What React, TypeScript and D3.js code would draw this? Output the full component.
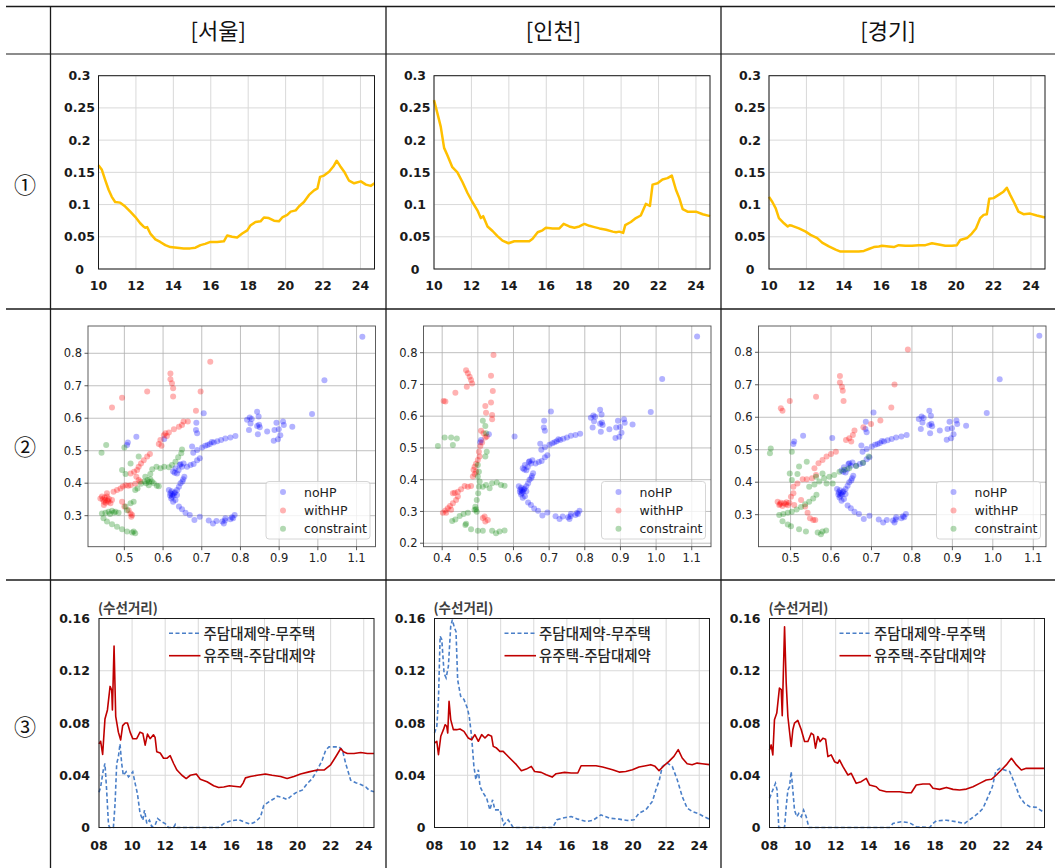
import React from "react";
import * as d3 from "d3";

type P = [number, number];

// ---------- labels ----------
const regions = ["[서울]", "[인천]", "[경기]"];
const rowMarks = ["①", "②", "③"];
const r1YTicks = [0, 0.05, 0.1, 0.15, 0.2, 0.25, 0.3];
const r1YLabels = ["0", "0.05", "0.1", "0.15", "0.2", "0.25", "0.3"];
const r1XTicks = [10, 12, 14, 16, 18, 20, 22, 24];
const r3YTicks = [0, 0.04, 0.08, 0.12, 0.16];
const r3YLabels = ["0", "0.04", "0.08", "0.12", "0.16"];
const r3XTicks = [2008, 2010, 2012, 2014, 2016, 2018, 2020, 2022, 2024];
const r3XLabels = ["08", "10", "12", "14", "16", "18", "20", "22", "24"];
const r3YTitle = "(수선거리)";
const r3SeriesNames = ["주담대제약-무주택", "유주택-주담대제약"];
const scatterNames = ["noHP", "withHP", "constraint"];

// ---------- row 1 : ratio series ----------
const seoulR1: P[] = [[10.0,0.161],[10.18,0.154],[10.36,0.138],[10.54,0.123],[10.71,0.112],[10.89,0.104],[11.16,0.103],[11.43,0.097],[11.7,0.089],[11.96,0.081],[12.23,0.071],[12.4,0.066],[12.5,0.064],[12.6,0.065],[12.77,0.055],[13.04,0.046],[13.3,0.042],[13.57,0.037],[13.84,0.034],[14.2,0.033],[14.55,0.032],[14.9,0.032],[15.18,0.033],[15.45,0.037],[15.7,0.039],[15.98,0.042],[16.34,0.042],[16.7,0.043],[16.88,0.052],[17.14,0.05],[17.41,0.049],[17.68,0.055],[17.95,0.06],[18.13,0.068],[18.39,0.073],[18.66,0.074],[18.84,0.08],[19.1,0.079],[19.38,0.075],[19.64,0.074],[19.82,0.08],[20.09,0.084],[20.27,0.089],[20.54,0.091],[20.71,0.097],[20.98,0.104],[21.25,0.115],[21.52,0.122],[21.7,0.125],[21.84,0.143],[22.05,0.145],[22.32,0.151],[22.55,0.159],[22.73,0.168],[22.91,0.16],[23.13,0.151],[23.39,0.137],[23.66,0.133],[24.02,0.136],[24.29,0.131],[24.55,0.129],[24.75,0.133]];
const incheonR1: P[] = [[10.0,0.262],[10.18,0.242],[10.36,0.221],[10.54,0.188],[10.71,0.177],[10.98,0.158],[11.25,0.15],[11.52,0.135],[11.79,0.118],[12.05,0.104],[12.32,0.091],[12.5,0.079],[12.63,0.082],[12.86,0.066],[13.13,0.059],[13.39,0.051],[13.66,0.044],[13.98,0.04],[14.29,0.043],[14.64,0.043],[15.09,0.043],[15.27,0.047],[15.54,0.057],[15.8,0.06],[15.98,0.064],[16.34,0.063],[16.7,0.063],[16.93,0.07],[17.23,0.066],[17.5,0.064],[17.77,0.066],[18.04,0.07],[18.3,0.067],[18.57,0.065],[18.84,0.063],[19.2,0.061],[19.55,0.058],[19.73,0.057],[19.9,0.058],[20.11,0.056],[20.22,0.068],[20.52,0.073],[20.79,0.079],[21.05,0.083],[21.32,0.101],[21.54,0.098],[21.68,0.131],[21.95,0.133],[22.21,0.139],[22.48,0.141],[22.71,0.145],[22.93,0.123],[23.11,0.11],[23.29,0.093],[23.55,0.089],[24.0,0.089],[24.36,0.085],[24.75,0.082]];
const gyeonggiR1: P[] = [[10.0,0.112],[10.18,0.104],[10.36,0.094],[10.53,0.079],[10.8,0.071],[11.0,0.066],[11.1,0.068],[11.24,0.067],[11.6,0.063],[11.96,0.058],[12.22,0.053],[12.58,0.048],[12.84,0.041],[13.2,0.035],[13.56,0.03],[13.82,0.027],[14.27,0.027],[14.8,0.027],[15.07,0.028],[15.33,0.031],[15.6,0.034],[15.87,0.035],[16.04,0.036],[16.4,0.035],[16.67,0.034],[16.93,0.037],[17.29,0.036],[17.64,0.036],[18.0,0.037],[18.36,0.037],[18.71,0.04],[19.07,0.038],[19.42,0.036],[19.78,0.036],[20.04,0.037],[20.22,0.045],[20.58,0.048],[20.84,0.055],[21.06,0.063],[21.29,0.079],[21.47,0.084],[21.64,0.085],[21.77,0.109],[22.0,0.11],[22.27,0.115],[22.53,0.12],[22.71,0.126],[22.89,0.115],[23.12,0.102],[23.33,0.089],[23.6,0.085],[23.96,0.086],[24.31,0.083],[24.75,0.08]];

// ---------- row 2 : scatter ----------
const noHP: P[] = [[1.115,0.851],[1.017,0.717],[0.985,0.613],[0.817,0.595],[0.824,0.602],[0.826,0.584],[0.822,0.564],[0.843,0.62],[0.847,0.605],[0.843,0.576],[0.85,0.572],[0.845,0.551],[0.869,0.559],[0.886,0.531],[0.888,0.564],[0.893,0.586],[0.899,0.566],[0.91,0.59],[0.903,0.548],[0.897,0.535],[0.934,0.574],[0.912,0.579],[0.829,0.598],[0.848,0.58],[0.678,0.494],[0.688,0.502],[0.701,0.51],[0.709,0.515],[0.721,0.521],[0.731,0.525],[0.74,0.529],[0.75,0.533],[0.761,0.538],[0.774,0.541],[0.787,0.545],[0.715,0.518],[0.726,0.527],[0.626,0.436],[0.632,0.446],[0.636,0.43],[0.643,0.456],[0.649,0.451],[0.653,0.461],[0.662,0.451],[0.671,0.456],[0.679,0.459],[0.688,0.471],[0.695,0.477],[0.64,0.44],[0.63,0.432],[0.645,0.458],[0.615,0.379],[0.619,0.369],[0.623,0.358],[0.629,0.369],[0.636,0.379],[0.626,0.343],[0.621,0.353],[0.632,0.348],[0.641,0.389],[0.645,0.4],[0.652,0.412],[0.655,0.42],[0.636,0.364],[0.622,0.375],[0.627,0.362],[0.65,0.405],[0.624,0.366],[0.631,0.372],[0.618,0.362],[0.641,0.328],[0.649,0.32],[0.658,0.309],[0.669,0.302],[0.681,0.287],[0.695,0.297],[0.718,0.285],[0.729,0.276],[0.738,0.284],[0.753,0.282],[0.757,0.276],[0.761,0.292],[0.774,0.289],[0.781,0.292],[0.785,0.302],[0.76,0.285],[0.778,0.295],[0.507,0.518],[0.509,0.525],[0.531,0.543],[0.705,0.615],[0.686,0.586],[0.685,0.564],[0.688,0.554],[0.675,0.513],[0.603,0.536]];
const seoulWithHP: P[] = [[0.468,0.633],[0.494,0.663],[0.559,0.682],[0.619,0.738],[0.619,0.72],[0.623,0.708],[0.626,0.692],[0.626,0.667],[0.722,0.774],[0.697,0.682],[0.685,0.623],[0.442,0.359],[0.447,0.343],[0.451,0.348],[0.455,0.359],[0.459,0.343],[0.464,0.338],[0.468,0.348],[0.447,0.333],[0.455,0.369],[0.438,0.353],[0.444,0.35],[0.452,0.34],[0.46,0.352],[0.449,0.356],[0.457,0.347],[0.472,0.374],[0.481,0.379],[0.49,0.384],[0.503,0.394],[0.516,0.394],[0.528,0.398],[0.537,0.41],[0.541,0.405],[0.531,0.42],[0.496,0.39],[0.51,0.392],[0.533,0.441],[0.537,0.451],[0.543,0.461],[0.55,0.471],[0.559,0.482],[0.566,0.49],[0.589,0.521],[0.593,0.533],[0.602,0.548],[0.606,0.554],[0.615,0.556],[0.628,0.566],[0.641,0.574],[0.649,0.579],[0.653,0.59],[0.664,0.59],[0.596,0.515],[0.61,0.545],[0.516,0.307],[0.518,0.297],[0.511,0.317],[0.5,0.328],[0.494,0.343],[0.52,0.302],[0.516,0.43],[0.525,0.435]];
const seoulConstraint: P[] = [[0.441,0.494],[0.453,0.518],[0.5,0.51],[0.494,0.441],[0.503,0.428],[0.516,0.461],[0.537,0.482],[0.442,0.307],[0.451,0.309],[0.459,0.312],[0.468,0.315],[0.477,0.312],[0.485,0.309],[0.446,0.292],[0.455,0.282],[0.468,0.274],[0.481,0.266],[0.494,0.258],[0.507,0.251],[0.52,0.248],[0.528,0.246],[0.524,0.251],[0.473,0.31],[0.463,0.305],[0.503,0.328],[0.516,0.338],[0.524,0.343],[0.507,0.317],[0.528,0.379],[0.534,0.384],[0.543,0.398],[0.552,0.405],[0.56,0.41],[0.567,0.412],[0.576,0.4],[0.584,0.392],[0.589,0.391],[0.563,0.394],[0.556,0.4],[0.571,0.405],[0.564,0.404],[0.572,0.443],[0.583,0.451],[0.593,0.446],[0.603,0.451],[0.615,0.449],[0.623,0.456],[0.632,0.466],[0.639,0.48],[0.647,0.492],[0.649,0.504],[0.567,0.428],[0.554,0.42]];
const incheonWithHP: P[] = [[0.404,0.648],[0.409,0.646],[0.437,0.674],[0.469,0.693],[0.467,0.745],[0.472,0.735],[0.477,0.724],[0.481,0.714],[0.484,0.703],[0.544,0.793],[0.537,0.727],[0.542,0.679],[0.537,0.643],[0.521,0.632],[0.523,0.611],[0.54,0.604],[0.54,0.59],[0.509,0.554],[0.516,0.546],[0.521,0.533],[0.525,0.536],[0.512,0.517],[0.507,0.506],[0.503,0.488],[0.505,0.473],[0.5,0.462],[0.495,0.45],[0.491,0.441],[0.488,0.431],[0.491,0.418],[0.486,0.41],[0.495,0.425],[0.481,0.38],[0.472,0.378],[0.463,0.38],[0.453,0.37],[0.444,0.362],[0.435,0.359],[0.43,0.357],[0.444,0.347],[0.439,0.336],[0.43,0.326],[0.422,0.317],[0.416,0.31],[0.409,0.303],[0.402,0.296],[0.411,0.296],[0.425,0.305],[0.519,0.284],[0.528,0.273],[0.521,0.268],[0.514,0.279]];
const incheonConstraint: P[] = [[0.388,0.506],[0.407,0.533],[0.425,0.533],[0.43,0.509],[0.441,0.53],[0.514,0.586],[0.521,0.569],[0.523,0.546],[0.525,0.488],[0.521,0.473],[0.5,0.446],[0.503,0.425],[0.5,0.41],[0.505,0.394],[0.503,0.378],[0.501,0.357],[0.497,0.336],[0.493,0.315],[0.491,0.305],[0.523,0.383],[0.54,0.389],[0.553,0.391],[0.565,0.383],[0.575,0.381],[0.514,0.378],[0.533,0.373],[0.472,0.296],[0.46,0.292],[0.449,0.286],[0.437,0.275],[0.428,0.27],[0.467,0.261],[0.465,0.257],[0.481,0.244],[0.5,0.239],[0.514,0.239],[0.54,0.239],[0.551,0.231],[0.561,0.237],[0.575,0.24],[0.495,0.307],[0.497,0.299]];
const gyeonggiWithHP: P[] = [[0.476,0.628],[0.48,0.62],[0.498,0.65],[0.563,0.663],[0.622,0.727],[0.622,0.707],[0.627,0.694],[0.629,0.682],[0.631,0.65],[0.757,0.701],[0.749,0.63],[0.79,0.809],[0.722,0.59],[0.699,0.579],[0.68,0.569],[0.468,0.34],[0.472,0.33],[0.476,0.337],[0.48,0.327],[0.484,0.335],[0.488,0.332],[0.493,0.329],[0.497,0.337],[0.474,0.333],[0.49,0.338],[0.501,0.355],[0.507,0.366],[0.507,0.386],[0.517,0.396],[0.53,0.409],[0.54,0.409],[0.553,0.412],[0.563,0.422],[0.559,0.443],[0.569,0.458],[0.579,0.468],[0.589,0.479],[0.6,0.487],[0.612,0.494],[0.637,0.53],[0.645,0.535],[0.654,0.545],[0.658,0.559],[0.65,0.525],[0.526,0.345],[0.536,0.325],[0.542,0.306],[0.548,0.289],[0.556,0.284],[0.561,0.284],[0.509,0.33]];
const gyeonggiConstraint: P[] = [[0.451,0.504],[0.449,0.489],[0.503,0.494],[0.498,0.427],[0.521,0.448],[0.54,0.463],[0.503,0.407],[0.517,0.425],[0.472,0.299],[0.482,0.302],[0.493,0.306],[0.503,0.309],[0.515,0.316],[0.526,0.324],[0.536,0.332],[0.546,0.34],[0.556,0.35],[0.564,0.361],[0.48,0.28],[0.493,0.27],[0.501,0.264],[0.521,0.255],[0.538,0.248],[0.567,0.245],[0.579,0.248],[0.588,0.251],[0.575,0.24],[0.546,0.386],[0.559,0.393],[0.571,0.402],[0.583,0.412],[0.596,0.417],[0.608,0.422],[0.621,0.432],[0.633,0.438],[0.645,0.443],[0.662,0.45],[0.679,0.46],[0.693,0.479],[0.589,0.396],[0.604,0.396],[0.579,0.427],[0.563,0.417]];

// scatter axes per panel
const scatterXDomains: P[] = [[0.406, 1.149], [0.3476, 1.154], [0.4207, 1.1315]];
const scatterYDomains: P[] = [[0.2045, 0.884], [0.189, 0.884], [0.2014, 0.881]];
const scatterXTicks = [[0.5, 0.6, 0.7, 0.8, 0.9, 1.0, 1.1], [0.4, 0.5, 0.6, 0.7, 0.8, 0.9, 1.0, 1.1], [0.5, 0.6, 0.7, 0.8, 0.9, 1.0, 1.1]];
const scatterYTicks = [[0.3, 0.4, 0.5, 0.6, 0.7, 0.8], [0.2, 0.3, 0.4, 0.5, 0.6, 0.7, 0.8], [0.3, 0.4, 0.5, 0.6, 0.7, 0.8]];

// ---------- row 3 : convergence distance ----------
const seoulRed: P[] = [[2008.0,0.064],[2008.1,0.066],[2008.22,0.056],[2008.36,0.083],[2008.51,0.09],[2008.67,0.108],[2008.77,0.105],[2008.81,0.09],[2008.91,0.139],[2009.01,0.085],[2009.17,0.073],[2009.31,0.067],[2009.43,0.078],[2009.58,0.08],[2009.72,0.08],[2009.88,0.073],[2010.04,0.068],[2010.28,0.068],[2010.48,0.073],[2010.65,0.072],[2010.79,0.063],[2010.93,0.0715],[2011.09,0.068],[2011.29,0.071],[2011.39,0.069],[2011.49,0.058],[2011.7,0.057],[2011.9,0.053],[2012.1,0.053],[2012.3,0.055],[2012.51,0.049],[2012.71,0.044],[2013.01,0.04],[2013.27,0.0375],[2013.52,0.04],[2013.88,0.041],[2014.12,0.037],[2014.53,0.035],[2014.93,0.032],[2015.23,0.0306],[2015.54,0.031],[2015.88,0.032],[2016.14,0.0316],[2016.55,0.031],[2016.71,0.034],[2016.85,0.038],[2017.15,0.039],[2017.56,0.04],[2018.06,0.041],[2018.46,0.04],[2018.97,0.039],[2019.37,0.0375],[2019.78,0.039],[2020.18,0.041],[2020.69,0.0426],[2021.19,0.044],[2021.6,0.044],[2022.0,0.048],[2022.3,0.054],[2022.61,0.0605],[2022.77,0.058],[2023.01,0.0566],[2023.41,0.0566],[2023.82,0.0574],[2024.22,0.0566],[2024.62,0.0566]];
const seoulBlue: P[] = [[2008.0,0.027],[2008.1,0.031],[2008.26,0.044],[2008.36,0.049],[2008.46,0.029],[2008.57,0.003],[2008.63,0],[2008.87,0],[2008.97,0.018],[2009.07,0.049],[2009.17,0.054],[2009.27,0.064],[2009.37,0.049],[2009.47,0.04],[2009.64,0.0426],[2009.78,0.0388],[2009.88,0.04],[2010.04,0.0426],[2010.18,0.034],[2010.32,0.026],[2010.48,0.011],[2010.65,0.0056],[2010.75,0.0133],[2010.89,0.003],[2011.05,0.0056],[2011.19,0.0005],[2011.39,0.0018],[2011.54,0.0069],[2011.8,0.0043],[2012.0,0.003],[2012.2,0],[2012.51,0],[2012.61,0.0023],[2012.71,0],[2015.23,0],[2015.54,0.003],[2015.94,0.005],[2016.44,0.006],[2016.75,0.0043],[2017.15,0.0026],[2017.45,0.0043],[2017.76,0.008],[2017.96,0.017],[2018.26,0.0196],[2018.57,0.022],[2018.77,0.024],[2019.07,0.023],[2019.37,0.0214],[2019.68,0.0248],[2019.98,0.0273],[2020.28,0.0286],[2020.59,0.0337],[2020.89,0.0375],[2021.19,0.0439],[2021.49,0.0516],[2021.7,0.0592],[2021.9,0.0617],[2022.2,0.0617],[2022.51,0.0617],[2022.71,0.0592],[2022.91,0.049],[2023.21,0.0362],[2023.52,0.0342],[2023.82,0.0329],[2024.12,0.0311],[2024.32,0.0286],[2024.62,0.0273]];
const incheonRed: P[] = [[2008.0,0.0647],[2008.14,0.066],[2008.24,0.0557],[2008.38,0.0698],[2008.54,0.0749],[2008.64,0.0787],[2008.74,0.0775],[2008.8,0.0723],[2008.88,0.0966],[2008.98,0.0826],[2009.14,0.0749],[2009.34,0.0749],[2009.54,0.0754],[2009.78,0.0736],[2010.04,0.0685],[2010.24,0.0672],[2010.44,0.0711],[2010.65,0.066],[2010.85,0.0711],[2011.05,0.0685],[2011.25,0.0711],[2011.45,0.0698],[2011.55,0.0621],[2011.75,0.0608],[2011.95,0.0583],[2012.15,0.0583],[2012.35,0.0557],[2012.65,0.0519],[2012.95,0.0481],[2013.25,0.0435],[2013.55,0.0447],[2013.85,0.0468],[2014.05,0.0429],[2014.45,0.0422],[2014.75,0.0404],[2015.11,0.0386],[2015.35,0.0412],[2015.86,0.0422],[2016.26,0.0417],[2016.66,0.0417],[2016.86,0.0473],[2017.36,0.0473],[2017.76,0.0473],[2018.16,0.0463],[2018.76,0.0442],[2019.16,0.0424],[2019.56,0.0429],[2019.96,0.0442],[2020.36,0.0463],[2020.77,0.0473],[2021.07,0.0481],[2021.33,0.0468],[2021.57,0.0435],[2021.87,0.0473],[2022.17,0.0506],[2022.47,0.0544],[2022.73,0.0596],[2022.97,0.0532],[2023.27,0.0488],[2023.57,0.0481],[2023.87,0.0493],[2024.17,0.0488],[2024.62,0.0481]];
const incheonBlue: P[] = [[2008.0,0.0723],[2008.14,0.0775],[2008.24,0.098],[2008.34,0.1465],[2008.44,0.144],[2008.58,0.118],[2008.7,0.1145],[2008.84,0.1235],[2008.98,0.154],[2009.08,0.159],[2009.2,0.153],[2009.3,0.15],[2009.4,0.113],[2009.58,0.1005],[2009.78,0.098],[2009.98,0.0915],[2010.1,0.085],[2010.24,0.07],[2010.38,0.047],[2010.5,0.0366],[2010.65,0.0442],[2010.75,0.0314],[2010.95,0.0263],[2011.15,0.0225],[2011.35,0.0135],[2011.51,0.0212],[2011.65,0.0135],[2011.95,0.0135],[2012.19,0.002],[2012.45,0.0059],[2012.59,0.0033],[2012.75,0],[2015.15,0],[2015.4,0.0059],[2015.76,0.0072],[2016.26,0.0084],[2016.66,0.0064],[2017.16,0.0046],[2017.56,0.0054],[2018.06,0.0097],[2018.56,0.0072],[2019.16,0.0064],[2019.66,0.0054],[2020.06,0.0059],[2020.36,0.011],[2020.77,0.0135],[2021.17,0.02],[2021.41,0.0302],[2021.57,0.0353],[2021.77,0.0468],[2022.07,0.0493],[2022.37,0.0468],[2022.67,0.0366],[2022.97,0.0238],[2023.27,0.0148],[2023.57,0.0123],[2023.97,0.0105],[2024.27,0.0084],[2024.62,0.0064]];
const gyeonggiRed: P[] = [[2008.0,0.0594],[2008.1,0.0632],[2008.2,0.0556],[2008.3,0.0824],[2008.44,0.0876],[2008.6,0.1068],[2008.71,0.1055],[2008.77,0.0855],[2008.91,0.1536],[2009.01,0.1106],[2009.11,0.085],[2009.31,0.062],[2009.41,0.0748],[2009.51,0.0799],[2009.71,0.082],[2009.92,0.0748],[2010.12,0.0658],[2010.32,0.0658],[2010.52,0.0722],[2010.66,0.0709],[2010.78,0.0607],[2010.92,0.0697],[2011.06,0.0658],[2011.23,0.0684],[2011.39,0.0676],[2011.53,0.0543],[2011.73,0.0556],[2011.93,0.0504],[2012.13,0.0492],[2012.23,0.0517],[2012.44,0.0466],[2012.74,0.0402],[2012.94,0.0415],[2013.24,0.0338],[2013.54,0.0351],[2013.85,0.0376],[2014.05,0.0325],[2014.45,0.0312],[2014.65,0.0287],[2015.06,0.0274],[2015.46,0.0274],[2015.86,0.0274],[2016.27,0.0266],[2016.57,0.0266],[2016.87,0.0325],[2017.27,0.0333],[2017.68,0.0333],[2017.88,0.03],[2018.28,0.0292],[2018.69,0.0307],[2019.09,0.0292],[2019.49,0.0287],[2019.9,0.0294],[2020.3,0.0312],[2020.7,0.0338],[2021.1,0.0364],[2021.41,0.0369],[2021.71,0.0402],[2022.01,0.044],[2022.31,0.0479],[2022.62,0.053],[2022.92,0.0479],[2023.22,0.044],[2023.52,0.0453],[2023.93,0.0453],[2024.62,0.0453]];
const gyeonggiBlue: P[] = [[2008.0,0.0223],[2008.1,0.0256],[2008.2,0.0287],[2008.36,0.0338],[2008.46,0.0287],[2008.56,0],[2008.91,0],[2009.01,0.0159],[2009.11,0.0287],[2009.21,0.0312],[2009.31,0.0428],[2009.41,0.0287],[2009.51,0.0133],[2009.65,0.0082],[2009.77,0.0108],[2009.92,0.0082],[2010.06,0.0133],[2010.22,0.0082],[2010.38,0],[2015.26,0],[2015.46,0.0031],[2015.96,0.0044],[2016.47,0.0036],[2016.87,0.0005],[2017.68,0],[2017.88,0.0031],[2018.08,0.0051],[2018.69,0.0056],[2019.29,0.0044],[2019.79,0.0031],[2020.2,0.0069],[2020.6,0.0108],[2020.9,0.0146],[2021.21,0.0236],[2021.47,0.0312],[2021.67,0.0428],[2021.91,0.0453],[2022.21,0.044],[2022.52,0.0428],[2022.82,0.0338],[2023.12,0.0236],[2023.42,0.0184],[2023.73,0.0159],[2024.13,0.0154],[2024.62,0.0113]];

const r1Data = [seoulR1, incheonR1, gyeonggiR1];
const withHPData = [seoulWithHP, incheonWithHP, gyeonggiWithHP];
const constraintData = [seoulConstraint, incheonConstraint, gyeonggiConstraint];
const r3Blue = [seoulBlue, incheonBlue, gyeonggiBlue];
const r3Red = [seoulRed, incheonRed, gyeonggiRed];

// ---------- layout / style ----------
const COLS = [50.5, 386, 721];
const KR = "'Noto Sans CJK KR', 'Noto Sans', sans-serif";
const TICK = "'DejaVu Sans', 'Noto Sans CJK KR', sans-serif";
const GRID = "#d9d9d9";
const SCAT_COLORS = ["#0000ff", "#ff0000", "#008000"];

function Row1Panel({ x0, data }: { x0: number; data: P[] }) {
  const left = x0 + 48, top = 75.7, w = 276, h = 193.3;
  const xs = d3.scaleLinear().domain([10, 24.75]).range([left, left + w]);
  const ys = d3.scaleLinear().domain([0, 0.3]).range([top + h, top]);
  const line = d3.line<P>().x(d => xs(d[0])).y(d => ys(d[1]));
  return (
    <g>
      {r1YTicks.map(t => <line key={"gy" + t} x1={left} x2={left + w} y1={ys(t)} y2={ys(t)} stroke={GRID} strokeWidth={1} />)}
      {r1XTicks.map(t => <line key={"gx" + t} x1={xs(t)} x2={xs(t)} y1={top} y2={top + h} stroke={GRID} strokeWidth={1} />)}
      <path d={line(data) || ""} fill="none" stroke="#ffc000" strokeWidth={2.5} strokeLinejoin="round" />
      <rect x={left} y={top} width={w} height={h} fill="none" stroke="#1a1a1a" strokeWidth={1} />
      {r1YTicks.map((t, i) => (
        <text key={"ly" + t} x={left - 19} y={ys(t)} dy="0.36em" textAnchor="middle" fontFamily={TICK} fontWeight="bold" fontSize={12.5} fill="#1a1a1a">{r1YLabels[i]}</text>
      ))}
      {r1XTicks.map(t => (
        <text key={"lx" + t} x={xs(t)} y={top + h + 21} textAnchor="middle" fontFamily={TICK} fontWeight="bold" fontSize={12.5} fill="#1a1a1a">{String(t)}</text>
      ))}
    </g>
  );
}

function ScatterPanel({ idx, x0 }: { idx: number; x0: number }) {
  const left = x0 + 37.5, top = 326, w = 287.5, h = 220.7;
  const xs = d3.scaleLinear().domain(scatterXDomains[idx]).range([left, left + w]);
  const ys = d3.scaleLinear().domain(scatterYDomains[idx]).range([top + h, top]);
  const series = [noHP, withHPData[idx], constraintData[idx]];
  const lgRight = left + w - 5.5, lgBottom = top + h - 7.7;
  const lgW = 104, lgH = 57.5;
  const lgX = lgRight - lgW, lgY = lgBottom - lgH;
  const fmt = d3.format(".1f");
  return (
    <g>
      <rect x={left} y={top} width={w} height={h} fill="#ffffff" />
      {scatterYTicks[idx].map(t => <line key={"gy" + t} x1={left} x2={left + w} y1={ys(t)} y2={ys(t)} stroke="#b0b0b0" strokeWidth={0.8} />)}
      {scatterXTicks[idx].map(t => <line key={"gx" + t} x1={xs(t)} x2={xs(t)} y1={top} y2={top + h} stroke="#b0b0b0" strokeWidth={0.8} />)}
      {series.map((s, si) => (
        <g key={"s" + si}>
          {s.map((d, i) => <circle key={i} cx={xs(d[0])} cy={ys(d[1])} r={3} fill={SCAT_COLORS[si]} fillOpacity={0.3} />)}
        </g>
      ))}
      <rect x={left} y={top} width={w} height={h} fill="none" stroke="#4d4d4d" strokeWidth={0.9} />
      {scatterYTicks[idx].map(t => (
        <g key={"ty" + t}>
          <line x1={left - 3.5} x2={left} y1={ys(t)} y2={ys(t)} stroke="#333" strokeWidth={0.8} />
          <text x={left - 6} y={ys(t)} dy="0.36em" textAnchor="end" fontFamily={TICK} fontSize={11.5} fill="#222">{fmt(t)}</text>
        </g>
      ))}
      {scatterXTicks[idx].map(t => (
        <g key={"tx" + t}>
          <line x1={xs(t)} x2={xs(t)} y1={top + h} y2={top + h + 3.5} stroke="#333" strokeWidth={0.8} />
          <text x={xs(t)} y={top + h + 15} textAnchor="middle" fontFamily={TICK} fontSize={11.5} fill="#222">{fmt(t)}</text>
        </g>
      ))}
      <rect x={lgX} y={lgY} width={lgW} height={lgH} rx={3} fill="#ffffff" fillOpacity={0.8} stroke="#cccccc" strokeWidth={0.8} />
      {scatterNames.map((n, i) => (
        <g key={n}>
          <circle cx={lgX + 17} cy={lgY + 10.6 + i * 18.3} r={3} fill={SCAT_COLORS[i]} fillOpacity={0.3} />
          <text x={lgX + 38} y={lgY + 10.6 + i * 18.3} dy="0.36em" fontFamily={TICK} fontSize={12.5} fill="#222">{n}</text>
        </g>
      ))}
    </g>
  );
}

function Row3Panel({ idx, x0 }: { idx: number; x0: number }) {
  const left = x0 + 48.5, top = 618.5, w = 275, h = 209;
  const xs = d3.scaleLinear().domain([2008, 2024.62]).range([left, left + w]);
  const ys = d3.scaleLinear().domain([0, 0.16]).range([top + h, top]);
  const line = d3.line<P>().x(d => xs(d[0])).y(d => ys(d[1]));
  const lgX1 = x0 + 118.5, lgX2 = x0 + 150, lgT = x0 + 153;
  return (
    <g>
      {r3YTicks.map(t => <line key={"gy" + t} x1={left} x2={left + w} y1={ys(t)} y2={ys(t)} stroke={GRID} strokeWidth={1} />)}
      {r3XTicks.map(t => <line key={"gx" + t} x1={xs(t)} x2={xs(t)} y1={top} y2={top + h} stroke={GRID} strokeWidth={1} />)}
      <path d={line(r3Blue[idx]) || ""} fill="none" stroke="#4a7fc8" strokeWidth={1.6} strokeDasharray="4,2.5" />
      <path d={line(r3Red[idx]) || ""} fill="none" stroke="#c00000" strokeWidth={1.6} strokeLinejoin="round" />
      <rect x={left} y={top} width={w} height={h} fill="none" stroke="#1a1a1a" strokeWidth={1} />
      {r3YTicks.map((t, i) => (
        <text key={"ly" + t} x={left - 9} y={ys(t)} dy="0.36em" textAnchor="end" fontFamily={TICK} fontWeight="bold" fontSize={12.5} fill="#1a1a1a">{r3YLabels[i]}</text>
      ))}
      {r3XTicks.map((t, i) => (
        <text key={"lx" + t} x={xs(t)} y={top + h + 22} textAnchor="middle" fontFamily={TICK} fontWeight="bold" fontSize={12.5} fill="#1a1a1a">{r3XLabels[i]}</text>
      ))}
      <text x={left - 1} y={top - 6} fontFamily={KR} fontWeight="bold" fontSize={13.5} fill="#404040">{r3YTitle}</text>
      <line x1={lgX1} x2={lgX2} y1={633.3} y2={633.3} stroke="#4a7fc8" strokeWidth={1.6} strokeDasharray="4,2.5" />
      <text x={lgT} y={633.3} dy="0.36em" fontFamily={KR} fontWeight={500} fontSize={14.5} fill="#262626">{r3SeriesNames[0]}</text>
      <line x1={lgX1} x2={lgX2} y1={655.7} y2={655.7} stroke="#c00000" strokeWidth={1.6} />
      <text x={lgT} y={655.7} dy="0.36em" fontFamily={KR} fontWeight={500} fontSize={14.5} fill="#262626">{r3SeriesNames[1]}</text>
    </g>
  );
}

export default function App() {
  const rowLines = [309, 580];
  const rowCenters = [185, 447, 727];
  return (
    <div style={{ position: "absolute", left: 0, top: 0 }}>
      <svg width={1055} height={868} style={{ display: "block", background: "#ffffff" }}>
        <rect x={0} y={0} width={1055} height={868} fill="#ffffff" />
        <line x1={6} x2={1055} y1={6.5} y2={6.5} stroke="#1a1a1a" strokeWidth={1.5} />
        <line x1={6} x2={1055} y1={54} y2={54} stroke="#666666" strokeWidth={1.5} />
        {rowLines.map(y => <line key={y} x1={6} x2={1055} y1={y} y2={y} stroke="#1a1a1a" strokeWidth={1.3} />)}
        {COLS.map(x => <line key={x} x1={x} x2={x} y1={6} y2={868} stroke="#1a1a1a" strokeWidth={1.3} />)}
        {regions.map((r, i) => {
          const cx = (COLS[i] + (i < 2 ? COLS[i + 1] : 1055)) / 2;
          return <text key={r} x={cx} y={31} dy="0.36em" textAnchor="middle" fontFamily={KR} fontSize={22} fill="#111">{r}</text>;
        })}
        {rowMarks.map((m, i) => (
          <text key={m} x={25} y={rowCenters[i]} dy="0.36em" textAnchor="middle" fontFamily={KR} fontSize={22} fill="#111">{m}</text>
        ))}
        {COLS.map((x, i) => <Row1Panel key={"r1" + i} x0={x} data={r1Data[i]} />)}
        {COLS.map((x, i) => <ScatterPanel key={"r2" + i} idx={i} x0={x} />)}
        {COLS.map((x, i) => <Row3Panel key={"r3" + i} idx={i} x0={x} />)}
      </svg>
    </div>
  );
}
